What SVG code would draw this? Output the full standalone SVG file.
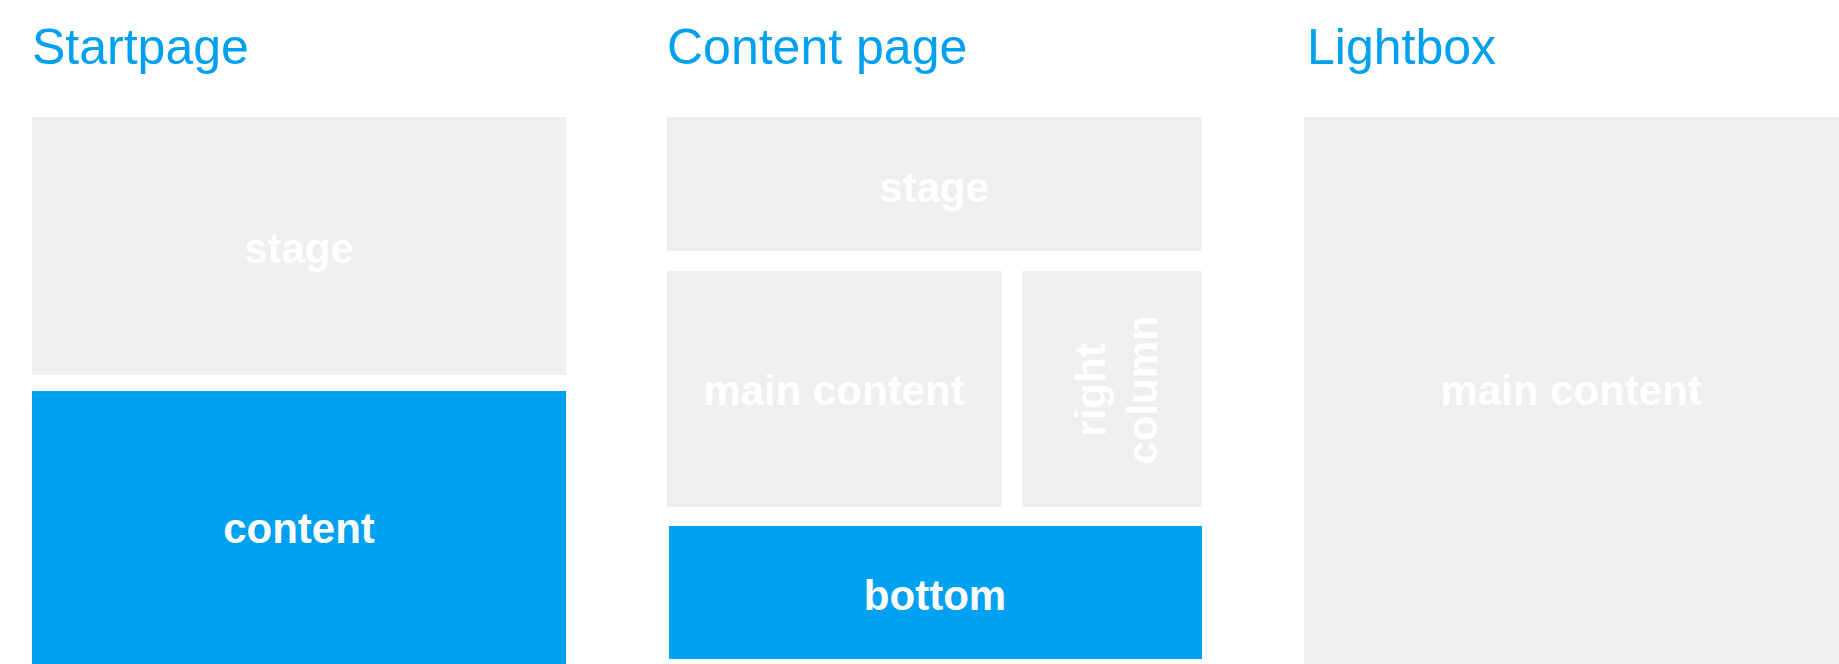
<svg xmlns="http://www.w3.org/2000/svg" width="1839" height="664" viewBox="0 0 1839 664">
<style>
.t{font-family:"Liberation Sans",Arial,sans-serif;font-size:50px;fill:#00a0f0}
.g{fill:#eeeff1}.b{fill:#00a1f1}
.l{font-family:"Liberation Sans",Arial,sans-serif;font-size:42px;font-weight:bold;fill:#ffffff;text-anchor:middle}
</style>
<rect width="1839" height="664" fill="#fff"/>
<text class="t" x="32" y="64">Startpage</text>
<text class="t" x="667" y="64">Content page</text>
<text class="t" x="1307" y="64">Lightbox</text>
<g id="sp-stage"><rect class="g" x="32" y="117" width="534" height="258"/><text class="l" x="299" y="263">stage</text></g>
<g id="sp-content"><rect class="b" x="32" y="391" width="534" height="273"/><text class="l" x="299" y="543">content</text></g>
<g id="cp-stage"><rect class="g" x="667" y="117" width="535" height="134"/><text class="l" x="934" y="202">stage</text></g>
<g id="cp-main"><rect class="g" x="667" y="271" width="335" height="236"/><text class="l" x="834" y="405">main content</text></g>
<g id="cp-right"><rect class="g" x="1022" y="271" width="180" height="236"/><text class="l" transform="translate(1105,390) rotate(-90)">right</text><text class="l" transform="translate(1157,390) rotate(-90)">column</text></g>
<g id="cp-bottom"><rect class="b" x="669" y="526" width="533" height="133"/><text class="l" x="935" y="610">bottom</text></g>
<g id="lb-main"><rect class="g" x="1304" y="117" width="535" height="547"/><text class="l" x="1571" y="405">main content</text></g>
<g id="connectors"/>
</svg>
